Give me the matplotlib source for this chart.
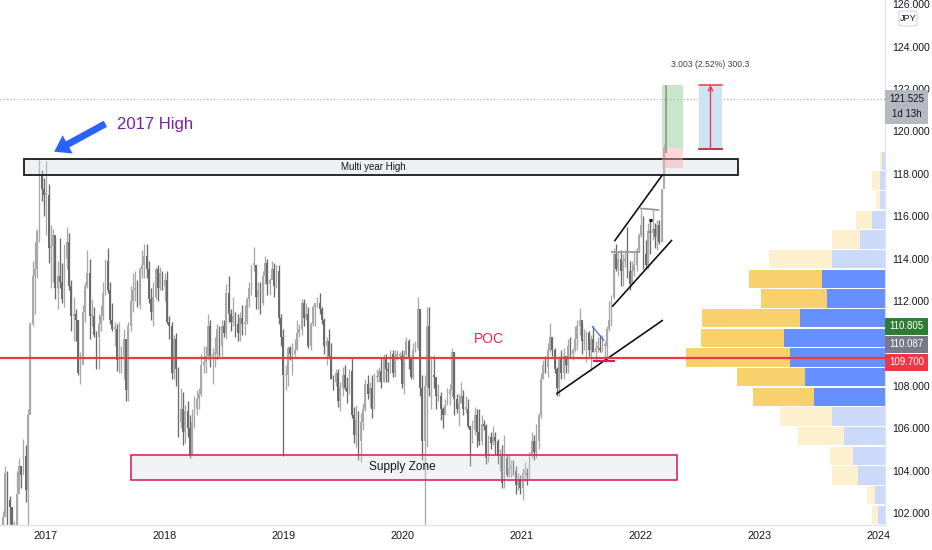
import matplotlib
matplotlib.use('Agg')
import matplotlib.pyplot as plt
import matplotlib.dates as mdates
from matplotlib.patches import Rectangle, FancyArrowPatch, FancyBboxPatch
import numpy as np
import pandas as pd

FONT = ['Liberation Sans Narrow', 'Liberation Sans', 'DejaVu Sans']
plt.rcParams['font.family'] = FONT

# ---------------- data: USDJPY weekly candles (high, low, close); open = previous close
first_open = 100.9
w2016 = [  # from 2016-08-15
    (101.3, 99.5, 100.2), (102.1, 99.9, 101.8), (104.2, 101.8, 103.9),
    (104.0, 101.2, 102.6), (102.8, 101.5, 102.3), (102.3, 100.1, 101.0), (101.6, 100.1, 101.4),
    (104.0, 101.2, 102.9), (104.6, 103.1, 104.2), (104.2, 103.2, 103.8), (105.5, 103.9, 104.7), (105.2, 102.5, 103.1),
    (106.9, 101.2, 106.6), (111.0, 106.7, 110.9), (113.9, 110.8, 113.2), (114.8, 111.4, 113.5),
    (115.4, 113.1, 115.3), (118.66, 114.8, 117.9), (118.2, 116.7, 117.3), (117.8, 116.0, 117.0),
]
w2017 = [  # from 2017-01-02
    (118.6, 115.1, 117.0), (117.5, 113.8, 114.5), (115.6, 112.6, 114.6), (115.4, 112.9, 115.1), (115.0, 112.1, 112.6),
    (113.9, 111.6, 113.2), (114.95, 112.6, 112.9), (113.8, 111.9, 112.1), (114.7, 111.7, 114.0),
    (115.5, 113.5, 114.8), (115.2, 112.5, 112.7), (113.0, 110.6, 111.3), (112.2, 110.1, 111.4),
    (111.6, 110.1, 111.1), (111.1, 108.5, 108.6), (109.6, 108.1, 109.0), (111.8, 109.4, 111.5),
    (112.9, 111.0, 112.7), (114.4, 112.6, 113.3), (114.0, 110.2, 111.3), (112.1, 110.8, 111.3), (111.7, 110.3, 110.4),
    (110.6, 108.8, 110.3), (111.4, 108.8, 110.9), (111.8, 110.6, 111.3), (112.9, 111.1, 112.4),
    (114.0, 112.3, 113.9), (114.5, 112.4, 112.5), (112.9, 110.9, 111.1), (111.9, 110.6, 110.7), (111.0, 109.9, 110.7),
    (110.9, 108.7, 109.2), (111.0, 108.6, 109.2), (109.9, 108.6, 109.4), (110.7, 108.3, 110.2),
    (110.2, 107.3, 107.8), (111.0, 107.3, 110.8), (112.7, 110.6, 112.0), (113.3, 111.5, 112.5),
    (113.4, 112.0, 112.6), (113.0, 111.7, 111.8), (113.6, 111.6, 113.5), (114.4, 113.1, 113.7), (114.7, 113.1, 114.1),
    (114.7, 113.1, 113.5), (113.9, 111.9, 112.1), (112.6, 111.1, 111.5), (112.9, 110.8, 112.2),
    (113.6, 112.1, 113.5), (113.7, 112.0, 112.6), (113.6, 112.5, 113.3), (113.4, 112.5, 112.7),
]
w2018 = [  # from 2018-01-01
    (113.3, 112.0, 113.0), (113.4, 110.9, 111.0), (111.3, 110.2, 110.8), (111.0, 108.3, 108.6), (110.4, 108.3, 110.2),
    (110.5, 108.0, 108.8), (108.9, 105.6, 106.3), (107.9, 106.0, 106.9), (107.7, 105.2, 105.8),
    (107.1, 105.3, 106.8), (107.3, 105.6, 106.0), (106.6, 104.6, 104.7), (106.9, 104.7, 106.3),
    (107.5, 106.0, 106.9), (107.8, 106.6, 107.4), (107.9, 106.9, 107.6), (109.5, 107.5, 109.0), (109.9, 108.6, 109.1),
    (109.9, 108.6, 109.4), (111.4, 109.2, 110.8), (111.1, 108.9, 109.4), (109.8, 108.1, 109.5),
    (110.3, 108.9, 109.5), (110.9, 109.2, 110.7), (110.8, 109.4, 109.9), (111.1, 109.4, 110.8),
    (111.1, 110.3, 110.5), (112.8, 110.2, 112.4), (113.2, 111.0, 111.4), (111.6, 110.6, 111.0), (112.2, 110.8, 111.3),
    (111.5, 110.3, 110.9), (111.4, 110.1, 110.5), (111.5, 110.1, 111.2), (111.8, 110.4, 110.9),
    (111.8, 110.4, 111.0), (112.2, 110.9, 112.1), (112.9, 111.7, 112.6), (113.7, 112.3, 113.7),
    (114.55, 113.4, 113.7), (113.6, 111.6, 112.2), (112.9, 111.6, 112.5), (112.9, 111.4, 111.9), (113.4, 111.8, 113.2),
    (114.1, 112.8, 113.8), (114.0, 112.3, 112.8), (113.1, 112.3, 113.0), (113.9, 113.1, 113.5),
    (113.8, 112.2, 112.7), (113.7, 112.6, 113.4), (113.7, 110.9, 111.2), (111.4, 109.9, 110.3), (110.7, 104.7, 108.5),
]
w2019 = [  # from 2019-01-07
    (109.0, 107.8, 108.5), (109.9, 108.0, 109.8), (109.9, 109.2, 109.5), (110.0, 108.5, 109.5),
    (110.2, 109.4, 109.7), (111.1, 109.7, 110.5), (110.9, 110.3, 110.7), (112.1, 110.4, 111.9),
    (112.1, 110.8, 111.2), (111.9, 111.1, 111.4), (111.7, 109.8, 109.9), (111.0, 109.7, 110.9),
    (111.8, 110.8, 111.7), (111.9, 110.8, 111.9), (112.2, 111.7, 111.9), (112.4, 111.4, 111.6), (111.7, 110.9, 111.1),
    (111.2, 109.5, 109.9), (110.3, 109.0, 110.1), (110.7, 109.3, 109.4), (110.0, 108.3, 108.3),
    (108.5, 107.8, 108.2), (108.8, 108.0, 108.6), (108.8, 107.0, 107.3), (108.2, 106.8, 107.9),
    (108.9, 107.5, 108.5), (109.0, 107.8, 107.9), (108.4, 107.2, 107.7), (108.8, 107.6, 108.7), (109.3, 106.5, 106.6),
    (107.0, 105.3, 105.7), (107.1, 105.1, 106.4), (106.8, 104.5, 105.4), (106.7, 104.4, 106.3),
    (107.2, 105.9, 106.9), (108.3, 106.8, 108.1), (108.5, 107.4, 107.6), (108.2, 107.0, 107.9), (108.5, 106.5, 106.9),
    (108.6, 106.9, 108.4), (108.8, 108.2, 108.4), (108.9, 108.2, 108.7), (109.3, 107.9, 108.2),
    (109.5, 108.2, 109.3), (109.5, 108.2, 108.8), (109.1, 108.2, 108.7), (109.7, 108.6, 109.5),
    (109.7, 108.4, 108.6), (109.7, 108.4, 109.4), (109.7, 109.2, 109.4), (109.6, 109.2, 109.4), (109.7, 107.9, 108.1),
]
w2020 = [  # from 2020-01-06
    (109.7, 107.6, 109.5), (110.3, 109.4, 110.1), (110.2, 108.8, 109.3), (109.3, 108.3, 108.4),
    (110.0, 108.3, 109.7), (110.1, 109.6, 109.8), (112.2, 109.7, 111.6), (111.5, 107.5, 107.9),
    (108.5, 104.5, 105.4), (108.5, 101.2, 108.0), (111.7, 105.1, 110.8), (111.7, 107.5, 107.9), (109.4, 106.9, 108.5),
    (109.4, 107.9, 108.4), (108.1, 106.9, 107.5), (108.1, 107.3, 107.5), (107.7, 106.4, 106.9),
    (107.0, 106.0, 106.6), (107.4, 106.7, 107.1), (107.9, 107.1, 107.6), (108.1, 107.1, 107.8),
    (109.8, 107.5, 109.6), (109.6, 106.6, 107.4), (107.6, 106.7, 106.9), (107.6, 106.1, 107.2), (108.2, 107.2, 107.5),
    (107.8, 106.6, 106.9), (107.5, 106.7, 106.9), (107.4, 106.0, 106.1), (106.1, 104.2, 105.9),
    (106.4, 105.3, 105.9), (107.0, 105.7, 106.6), (106.9, 105.1, 105.8), (106.9, 105.2, 105.4), (106.6, 105.2, 106.2),
    (106.4, 105.9, 106.1), (106.2, 104.3, 104.6), (105.7, 104.4, 105.6), (105.8, 105.0, 105.3),
    (106.1, 105.2, 105.6), (105.8, 104.8, 105.4), (105.5, 104.3, 104.7), (105.0, 104.0, 104.7),
    (105.2, 103.2, 103.4), (105.7, 103.2, 104.6), (104.8, 103.7, 103.8), (104.8, 103.7, 104.1), (104.5, 103.7, 104.2),
    (104.5, 103.8, 104.0), (104.2, 102.9, 103.3), (103.9, 103.1, 103.6), (103.8, 102.9, 103.2),
]
w2021 = [  # from 2021-01-04
    (104.1, 102.6, 103.9), (104.4, 103.5, 103.9), (104.1, 103.3, 103.8), (104.9, 103.6, 104.7),
    (105.8, 104.6, 105.4), (105.7, 104.5, 104.9), (106.2, 104.6, 105.4), (106.7, 105.0, 106.6),
    (108.6, 106.5, 108.3), (109.2, 108.3, 109.0), (109.4, 108.6, 108.9), (110.0, 108.4, 109.7), (110.97, 109.6, 110.3),
    (110.3, 109.4, 109.7), (109.8, 108.6, 108.8), (108.9, 107.5, 107.9), (109.4, 107.5, 109.3),
    (109.7, 108.3, 108.6), (109.8, 108.3, 109.4), (109.3, 108.6, 109.0), (110.2, 108.6, 109.9), (110.3, 109.3, 109.5),
    (109.8, 109.2, 109.7), (110.8, 109.6, 110.2), (111.1, 109.7, 110.8), (111.66, 110.4, 111.1),
    (111.0, 109.5, 110.1), (110.7, 109.7, 110.1), (110.6, 109.1, 110.5), (110.6, 109.4, 109.7),
    (110.4, 108.7, 110.2), (110.8, 109.6, 109.6), (110.1, 109.1, 109.8), (110.3, 109.6, 109.8), (110.4, 109.6, 109.7),
    (110.4, 109.6, 109.9), (110.1, 109.1, 109.9), (110.8, 109.1, 110.7), (112.0, 110.6, 111.1),
    (112.3, 110.8, 112.2), (114.5, 112.1, 114.2), (114.7, 113.4, 113.5), (114.3, 113.2, 114.0),
    (114.4, 112.7, 113.4), (114.2, 112.7, 113.9), (114.4, 113.6, 114.0), (115.5, 113.1, 113.4), (113.9, 112.5, 112.8),
    (113.9, 112.8, 113.4), (114.3, 113.2, 113.7), (114.5, 113.4, 114.4), (115.2, 114.3, 115.1),
]
w2022 = [  # from 2022-01-03
    (116.35, 115.0, 115.6), (116.0, 113.5, 114.2), (114.9, 113.5, 113.7), (115.7, 113.5, 115.3), (115.8, 114.2, 115.2),
    (116.3, 114.9, 115.4), (115.7, 114.5, 115.0), (115.8, 114.4, 115.6), (115.8, 114.7, 114.8),
    (117.3, 114.8, 117.3), (119.4, 117.7, 119.2), (122.2, 119.0, 121.525),
]
year_blocks = [('2016-08-15', w2016), ('2017-01-02', w2017), ('2018-01-01', w2018),
               ('2019-01-07', w2019), ('2020-01-06', w2020), ('2021-01-04', w2021),
               ('2022-01-03', w2022)]

# volume profile rows (top to bottom): price centres, up volume (blue), down volume (yellow)
vp_price = [118.61, 117.68, 116.75, 115.83, 114.90, 113.97, 113.04, 112.12, 111.19, 110.26,
            109.33, 108.41, 107.48, 106.55, 105.62, 104.70, 103.77, 102.84, 101.91]
vp_blue = [9, 16, 15, 38, 75, 160, 188, 173, 255, 303, 285, 240, 213, 160, 123, 95, 80, 31, 20]
vp_yellow = [6, 24, 13, 50, 83, 188, 220, 200, 293, 248, 311, 203, 183, 156, 138, 71, 80, 24, 20]
vp_value_area = [False] * 6 + [True] * 7 + [False] * 6

poc_price = 109.31
last_price = 121.525
axis_tags = [('110.805', 110.805, '#2e7d32'), ('110.087', 110.087, '#787b86'), ('109.700', 109.700, '#f23645')]
y_ticks = [102, 104, 106, 108, 110, 112, 114, 116, 118, 120, 122, 124, 126]
hidden_tick = 110  # covered by the price tags in the reference
x_years = [2017, 2018, 2019, 2020, 2021, 2022, 2023, 2024]

# ---------------- assemble candles
dates, hi, lo, cl = [], [], [], []
for start, block in year_blocks:
    dr = pd.date_range(start, periods=len(block), freq='7D')
    dates += list(dr)
    hi += [b[0] for b in block]
    lo += [b[1] for b in block]
    cl += [b[2] for b in block]
x = mdates.date2num(dates)
hi, lo, cl = np.array(hi), np.array(lo), np.array(cl)
op = np.concatenate([[first_open], cl[:-1]])
up = cl >= op

def D(s):
    return mdates.date2num(pd.Timestamp(s))

W, H = 932, 550
fig = plt.figure(figsize=(W / 100, H / 100), dpi=100)
fig.patch.set_facecolor('white')
ax = fig.add_axes([0, 25 / H, 885 / W, 525 / H])
ax.set_facecolor('white')

UPC, DNC = '#a9a9a9', '#6b6b6b'
cols = np.where(up, UPC, DNC)
ax.vlines(x, lo, hi, colors=cols, lw=0.95, zorder=2)
body = np.maximum(np.abs(cl - op), 0.08)
ax.bar(x, body, bottom=np.minimum(op, cl), width=5.3, color=cols, lw=0, zorder=3)

# limits
ax.set_xlim(D('2016-08-13'), D('2024-01-22'))
ax.set_ylim(101.434, 126.198)

# current price dotted line
ax.axhline(last_price, color='#a0a3ab', lw=0.8, ls=(0, (1, 2)), zorder=1)

# Multi year High zone
ax.add_patch(Rectangle((D('2016-10-25'), 117.94), D('2022-10-28') - D('2016-10-25'), 0.78,
                       facecolor=(0.82, 0.83, 0.85, 0.35), edgecolor='#1a1a1a', lw=1.3, zorder=4))
ax.text(D('2019-10-03'), 118.33, 'Multi year High', ha='center', va='center', fontsize=7.0,
        color='#131722', zorder=5)

# Supply zone
ax.add_patch(Rectangle((D('2017-09-18'), 103.54), D('2022-04-24') - D('2017-09-18'), 1.18,
                       facecolor=(0.82, 0.83, 0.85, 0.3), edgecolor='#e0245e', lw=1.2, zorder=4))
ax.text(D('2019-12-31'), 104.15, 'Supply Zone', ha='center', va='center', fontsize=8.6,
        color='#131722', zorder=5)

# 2017 High label and arrow
ax.text(D('2017-12-02'), 120.33, '2017 High', ha='center', va='center', fontsize=12,
        color='#7b1fa2', zorder=6)
arr = FancyArrowPatch((D('2017-07-10'), 120.42), (D('2017-01-19'), 118.98),
                      arrowstyle='simple,head_width=15,head_length=11,tail_width=5',
                      mutation_scale=1, color='#2962ff', lw=0, zorder=6)
ax.add_patch(arr)

# POC label
ax.text(D('2020-09-23'), 110.2, 'POC', ha='center', va='center', fontsize=10, color='#e8264f', zorder=6)

# trendlines
def seg(d0, p0, d1, p1, **kw):
    ax.plot([D(d0), D(d1)], [p0, p1], solid_capstyle='butt', **kw)

seg('2021-04-17', 107.61, '2022-03-11', 111.10, color='#111111', lw=1.2, zorder=5)
seg('2021-10-06', 111.73, '2022-04-08', 114.88, color='#111111', lw=1.2, zorder=5)
seg('2021-10-13', 114.82, '2022-03-09', 117.94, color='#111111', lw=1.2, zorder=5)
seg('2021-10-01', 114.33, '2021-12-30', 114.33, color='#9a9a9a', lw=1.3, zorder=5)
seg('2021-12-30', 116.37, '2022-02-28', 116.29, color='#9a9a9a', lw=1.3, zorder=5)
seg('2022-01-28', 115.82, '2022-02-06', 115.82, color='#111111', lw=2.2, zorder=5)
seg('2021-08-05', 110.82, '2021-09-12', 110.12, color='#2962ff', lw=0.8, zorder=5)
seg('2021-08-07', 109.18, '2021-10-16', 109.18, color='#d81b60', lw=1.5, zorder=5)

# long position tool
ax.add_patch(Rectangle((D('2022-03-09'), 119.2), D('2022-05-11') - D('2022-03-09'), 122.19 - 119.2,
                       facecolor='#a5d6a7', alpha=0.6, lw=0, zorder=6))
ax.add_patch(Rectangle((D('2022-03-09'), 118.27), D('2022-05-11') - D('2022-03-09'), 119.2 - 118.27,
                       facecolor='#f7a8ae', alpha=0.45, lw=0, zorder=6))
ax.vlines(x[-1], lo[-1], hi[-1], colors='#9a9a9a', lw=1.2, zorder=7)

# measure tool
m0, m1 = D('2022-07-01'), D('2022-09-07')
ax.add_patch(Rectangle((m0, 119.16), m1 - m0, 122.19 - 119.16, facecolor='#cfe3f7', lw=0, zorder=6))
ax.plot([m0, m1], [122.19, 122.19], color='#f23645', lw=1.1, zorder=7)
ax.plot([m0, m1], [119.16, 119.16], color='#c0282f', lw=1.3, zorder=7)
ax.annotate('', xy=((m0 + m1) / 2, 122.19), xytext=((m0 + m1) / 2, 119.16),
            arrowprops=dict(arrowstyle='->', color='#f23645', lw=1.0, shrinkA=0, shrinkB=0,
                            mutation_scale=8), zorder=7)
ax.text((m0 + m1) / 2, 123.15, '3.003 (2.52%) 300.3', ha='center', va='center', fontsize=6.2,
        color='#3a3e48', zorder=7)

# axes styling
for s in ['top', 'left']:
    ax.spines[s].set_visible(False)
for s in ['right', 'bottom']:
    ax.spines[s].set_color('#e0e3eb')
    ax.spines[s].set_linewidth(1)
ax.yaxis.tick_right()
ax.set_yticks(y_ticks)
ax.set_yticklabels(['' if v == hidden_tick else f'{v:.3f}' for v in y_ticks])
ax.set_xticks([D(f'{yr}-01-01') for yr in x_years])
ax.set_xticklabels([str(yr) for yr in x_years])
ax.tick_params(axis='y', length=0, pad=5.5, labelsize=7.6, labelcolor='#131722')
ax.tick_params(axis='x', length=0, pad=4, labelsize=7.8, labelcolor='#131722')

# volume profile on twin axes (volume 0 at right edge)
axv = ax.twiny()
tot = np.array(vp_blue) + np.array(vp_yellow)
vp_scale = tot.max() / 0.2245
axv.set_xlim(vp_scale, 0)
for i, p in enumerate(vp_price):
    bcol = '#6690ff' if vp_value_area[i] else '#cbd9fb'
    ycol = '#f9d16c' if vp_value_area[i] else '#fdf0cf'
    axv.barh(p, vp_blue[i], left=0, height=0.86, color=bcol, lw=0, zorder=2)
    axv.barh(p, vp_yellow[i], left=vp_blue[i], height=0.86, color=ycol, lw=0, zorder=2)
axv.axhline(poc_price, color='#f23645', lw=1.6, zorder=5)
axv.axis('off')
ax.set_ylim(101.434, 126.198)

# price-axis tags
def ypix(price):
    return ax.transData.transform((ax.get_xlim()[0], price))[1]

x0, tw = 885 / W, 43 / W
th = 17
prev_bottom = None
for txt, val, col in axis_tags:
    yc = ypix(val)
    top = yc + th / 2
    if prev_bottom is not None and top > prev_bottom - 1:
        top = prev_bottom - 1
    bottom = top - th
    fig.add_artist(Rectangle((x0, bottom / H), tw, th / H, transform=fig.transFigure,
                             facecolor=col, lw=0, zorder=10))
    fig.text(x0 + tw / 2, (top - th / 2) / H, txt, ha='center', va='center', fontsize=7.0,
             color='white', zorder=11)
    prev_bottom = bottom

yc = ypix(last_price)
fig.add_artist(Rectangle((x0, (yc - 25) / H), tw, 34 / H, transform=fig.transFigure,
                         facecolor='#b5b8bf', lw=0, zorder=10))
fig.text(x0 + tw / 2, yc / H, f'{last_price:.3f}', ha='center', va='center', fontsize=7.0,
         color='#131722', zorder=11)
fig.text(x0 + tw / 2, (yc - 15) / H, '1d 13h', ha='center', va='center', fontsize=7.0,
         color='#131722', zorder=11)

# currency tag
fig.add_artist(FancyBboxPatch((899 / W, (H - 26) / H), 18 / W, 15 / H, transform=fig.transFigure,
                              boxstyle='round,pad=0,rounding_size=0.004', facecolor='white',
                              edgecolor='#d1d4dc', lw=0.8, zorder=10))
fig.text(908 / W, (H - 18.5) / H, 'JPY', ha='center', va='center', fontsize=6.6, color='#131722', zorder=11)

fig.savefig('out.png', dpi=100, facecolor='white')
